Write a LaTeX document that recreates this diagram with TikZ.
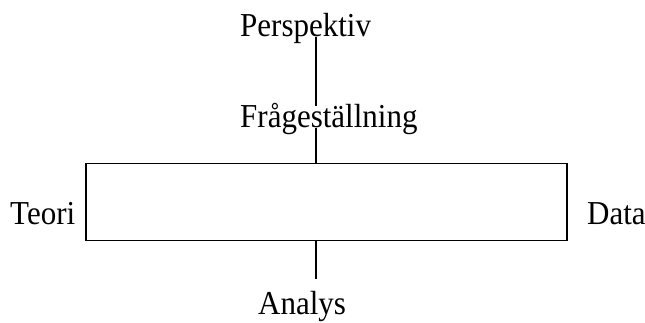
\documentclass[tikz,border=0pt]{standalone}
\usepackage{fontspec}
\setmainfont{Liberation Serif}
\newcommand{\vstretch}[1]{\scalebox{1}[1.08]{#1}}
\begin{document}
\begin{tikzpicture}[x=1pt,y=-1pt,
  lbl/.style={anchor=base west,inner sep=0pt,font=\fontsize{31}{31}\selectfont},
  conn/.style={line width=1.5pt}]
\useasboundingbox (0,0) rectangle (645,322);
\node[draw,line width=1.5pt,minimum width=481pt,minimum height=77pt,inner sep=0pt] (box) at (326.5,202) {};
\node[lbl] (persp) at (240,36.5) {\vstretch{Perspektiv}};
\node[lbl] (fraga) at (240,127) {\vstretch{Frågeställning}};
\node[lbl] (analys) at (258,314) {\vstretch{Analys}};
\node[lbl] (teori) at (10,224) {\vstretch{Teori}};
\node[lbl] (data) at (587,224) {\vstretch{Data}};
\coordinate (a1) at (316,37);
\coordinate (a2) at (316,106);
\coordinate (b1) at (316,128);
\coordinate (b2) at (316,163.5);
\coordinate (c1) at (316,240.5);
\coordinate (c2) at (316,279);
\draw[conn] (a1) -- (a2);
\draw[conn] (b1) -- (b2);
\draw[conn] (c1) -- (c2);
\end{tikzpicture}
\end{document}
